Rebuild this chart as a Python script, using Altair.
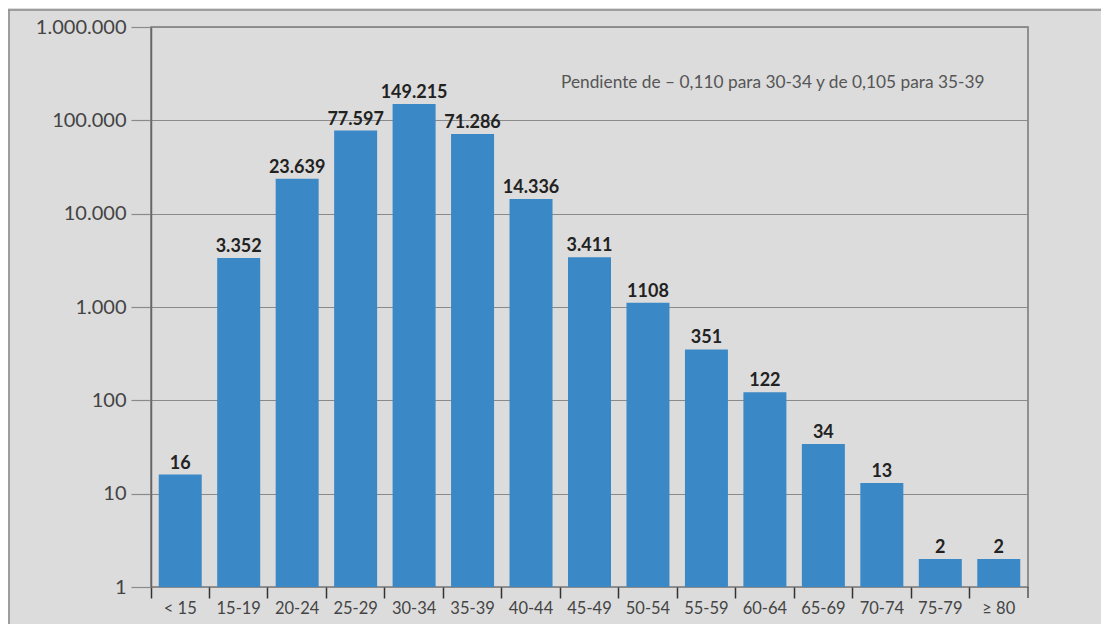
import altair as alt
import pandas as pd

categories = ["< 15", "15-19", "20-24", "25-29", "30-34", "35-39", "40-44", "45-49",
              "50-54", "55-59", "60-64", "65-69", "70-74", "75-79", "≥ 80"]
values = [16, 3352, 23639, 77597, 149215, 71286, 14336, 3411, 1108, 351, 122, 34, 13, 2, 2]
labels = ["16", "3.352", "23.639", "77.597", "149.215", "71.286", "14.336", "3.411",
          "1108", "351", "122", "34", "13", "2", "2"]
y_ticks = [1, 10, 100, 1000, 10000, 100000, 1000000]
note = "Pendiente de – 0,110 para 30-34 y de 0,105 para 35-39"

df = pd.DataFrame({"grupo": categories, "valor": values, "etiqueta": labels})

FONT = "Lato"

x_enc = alt.X("grupo:N", sort=categories, title=None,
              scale=alt.Scale(paddingInner=0, paddingOuter=0),
              axis=alt.Axis(labelAngle=0, bandPosition=0, tickSize=11, tickWidth=1.5,
                            tickColor="#333333", domain=False, labelFontSize=16.5,
                            labelColor="#444444", labelFont=FONT, labelPadding=2,
                            grid=False))
y_enc = alt.Y("valor:Q", title=None,
              scale=alt.Scale(type="log", domain=[1, 1000000]),
              axis=alt.Axis(values=y_ticks, format=",d", tickSize=20, tickColor="#8a8a8a",
                            tickWidth=1.2, domainColor="#666666", domainWidth=1.5,
                            labelFontSize=20, labelColor="#444444", labelFont=FONT,
                            labelPadding=5, grid=True, gridColor="#8a8a8a",
                            gridWidth=1.2))

base = alt.Chart(df)

bars = base.mark_bar(color="#3b88c7", size=43).encode(
    x=x_enc, y=y_enc, y2=alt.datum(1)
)

texts = base.mark_text(baseline="bottom", dy=-2, fontSize=18, fontWeight="bold",
                       color="#222222", font=FONT).encode(
    x=alt.X("grupo:N", sort=categories),
    y=alt.Y("valor:Q"),
    text="etiqueta:N",
)

note_df = pd.DataFrame({"t": [note]})
annot = alt.Chart(note_df).mark_text(align="left", baseline="middle", fontSize=17.3,
                                      color="#555555", font=FONT).encode(
    x=alt.value(410), y=alt.value(56), text="t:N"
)

# decorative frame lines (outer border and right-edge extension)
frame_top = alt.Chart(note_df).mark_rule(color="#8a8a8a", strokeWidth=1.5).encode(
    x=alt.value(-143), x2=alt.value(958), y=alt.value(-17))
frame_left = alt.Chart(note_df).mark_rule(color="#8a8a8a", strokeWidth=1.5).encode(
    x=alt.value(-142), y=alt.value(-17), y2=alt.value(605))
right_ext = alt.Chart(note_df).mark_rule(color="#555555", strokeWidth=1.5).encode(
    x=alt.value(877), y=alt.value(560), y2=alt.value(571))

chart = (bars + texts + annot + frame_top + frame_left + right_ext).properties(
    width=877, height=560,
    background="#dcdcdc",
    padding={"left": 143, "top": 19, "right": 73, "bottom": 37},
    autosize=alt.AutoSizeParams(type="none"),
).configure_view(stroke="#777777", strokeWidth=1.5)

chart.save("out.html", embed_options={
    "renderer": "svg", "actions": False,
    "formatLocale": {"decimal": ",", "thousands": ".", "grouping": [3], "currency": ["", "€"]},
})
